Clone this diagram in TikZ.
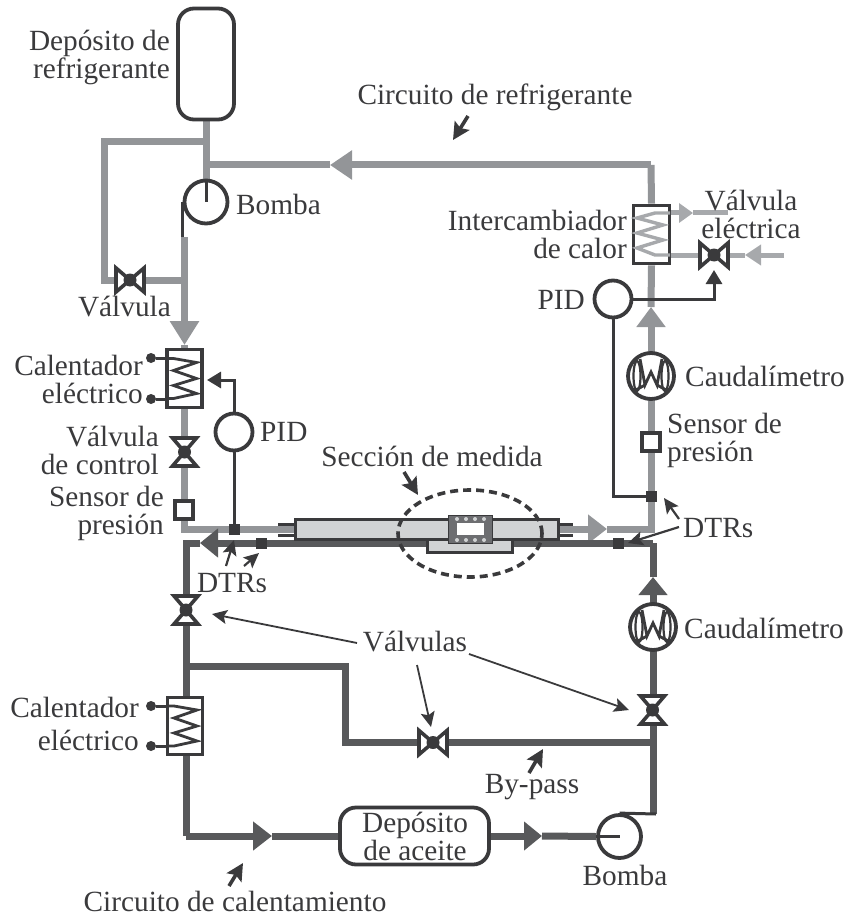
\documentclass[tikz,border=0pt]{standalone}
\usepackage{fontspec}
\setmainfont{Liberation Serif}
\usetikzlibrary{arrows.meta, positioning, shapes.geometric, backgrounds}
\definecolor{cRef}{HTML}{939598}
\definecolor{cAce}{HTML}{58595B}
\definecolor{cAgua}{HTML}{A7A9AC}
\definecolor{cLin}{HTML}{3A3A3C}
\definecolor{cTubo}{HTML}{D1D3D4}
\definecolor{cBloque}{HTML}{6D6E71}

\begin{document}
\begin{tikzpicture}[
  x=1pt, y=-1pt,
  txt/.style={font=\fontsize{29.3}{28}\selectfont, text=cLin, inner sep=0pt},
  tuboref/.style={draw=cRef, line width=7pt},
  tuboace/.style={draw=cAce, line width=7pt},
  tuboagua/.style={draw=cAgua, line width=5pt},
  punta/.style={-{Triangle[length=#1pt,width=28pt]}},
  wire/.style={draw=cLin, line width=3pt},
  caja/.style={rectangle, draw=cLin, line width=3.8pt, fill=white, inner sep=0pt},
  bomba/.style={circle, draw=cLin, line width=3.8pt, fill=white, minimum size=43pt, inner sep=0pt},
  pidc/.style={circle, draw=cLin, line width=3.8pt, fill=white, minimum size=37pt, inner sep=0pt},
  caudal/.style={circle, draw=cLin, line width=3.8pt, fill=white, minimum size=46pt, inner sep=0pt},
  sensor/.style={rectangle, draw=cLin, line width=3.8pt, fill=white, minimum size=18pt, inner sep=0pt},
  dtr/.style={rectangle, fill=cLin, minimum size=11pt, inner sep=0pt},
  borne/.style={circle, fill=cLin, minimum size=10pt, inner sep=0pt},
  flecha/.style={draw=cLin, line width=3.6pt, -{Stealth[length=17pt,width=17pt,inset=3pt]}},
  fina/.style={draw=cLin, line width=1.8pt, -{Stealth[length=15pt,width=14pt,inset=3pt]}},
  mando/.style={wire, -{Triangle[length=14pt,width=16pt]}},
  pics/valvula/.style={code={
    \draw[cLin, line width=3.6pt, fill=white] (-14,-12) -- (0,0) -- (-14,12) -- cycle;
    \draw[cLin, line width=3.6pt, fill=white] (14,-12) -- (0,0) -- (14,12) -- cycle;
    \fill[cLin] (0,0) circle (6.5);
  }},
  pics/resistencia/.style={code={
    \draw[cLin, line width=2.8pt] (-17,-20) -- (-11,-20) -- (12,-16) -- (-11,-8) -- (12,0) -- (-11,7) -- (12,15) -- (-11,20) -- (-17,20);
  }},
  pics/medidor/.style={code={
    \draw[cLin, line width=2.8pt] (-11,-17) -- (-6,9) -- (0,-4) -- (6,9) -- (11,-17);
    \draw[cLin, line width=2.2pt] (-14,0) ellipse (3.5 and 15);
    \draw[cLin, line width=2.2pt] (14,0) ellipse (3.5 and 15);
    \draw[cLin, line width=2.8pt] (-6,9) -- (-17,15) (6,9) -- (17,15);
  }}
]
\useasboundingbox (0,0) rectangle (845,917);

% circuito de refrigerante
\node[caja, rounded corners=16pt, minimum width=56pt, minimum height=111pt] (TanqueR) at (206,64) {};
\node[bomba] (BombaR) at (206,202) {};
\node[caja, minimum width=35pt, minimum height=58pt] (CalR) at (184.5,378.5) {};
\pic at (CalR) {resistencia};
\node[borne] (BorneA) at (151,358) {};
\node[borne] (BorneB) at (151,399) {};
\node[sensor] (SensorR) at (184,510) {};
\node[caja, minimum width=36pt, minimum height=58pt] (Inter) at (651.5,234.5) {};
\node[caudal] (CaudalR) at (651,376) {};
\pic at (CaudalR) {medidor};
\node[sensor] (SensorD) at (651,442) {};
\node[pidc] (PidA) at (234,432) {};
\node[pidc] (PidB) at (613,299) {};

% circuito de calentamiento
\node[caja, rounded corners=16pt, minimum width=149pt, minimum height=57pt] (DepA) at (414.5,836) {};
\node[bomba] (BombaA) at (619.5,836.5) {};
\node[caja, minimum width=35pt, minimum height=57pt] (CalA) at (185,726) {};
\pic at (CalA) {resistencia};
\node[borne] (BorneC) at (151,706) {};
\node[borne] (BorneD) at (151,746) {};
\node[caudal] (CaudalA) at (653,627) {};
\pic at (CaudalA) {medidor};

% seccion de medida
\node[rectangle, draw=cLin, line width=3pt, fill=cTubo, minimum width=85pt, minimum height=13pt, inner sep=0pt] (Placa) at (469.5,546) {};
\node[rectangle, draw=cLin, line width=3pt, fill=cTubo, minimum width=263pt, minimum height=20pt, inner sep=0pt] (Tubo) at (426.5,529) {};
\node[rectangle, fill=cBloque, draw=cLin, line width=1pt, minimum width=44pt, minimum height=28pt, inner sep=0pt] (Bloque) at (470,529) {};
\node[rectangle, fill=white, minimum width=27pt, minimum height=12pt, inner sep=0pt] (Ventana) at (470.5,529) {};
\foreach \px in {457,466,475,484} {
  \fill[cTubo] (\px,519) circle (2);
  \fill[cTubo] (\px,540) circle (2);
}
\node[ellipse, draw=cLin, line width=3.6pt, dash pattern=on 8pt off 5pt, minimum width=144pt, minimum height=87pt, inner sep=0pt] (Seccion) at (470,533.5) {};

% puntos de union
\coordinate (J1) at (206,142);
\coordinate (J2) at (206,165);
\coordinate (E1) at (104,142);
\coordinate (E2) at (184.5,280);
\coordinate (S1) at (184.5,237);
\coordinate (P1) at (184.5,345);
\coordinate (E3) at (184.5,529);
\coordinate (P2) at (330,165);
\coordinate (E4) at (651,165);
\coordinate (P3) at (607,529);
\coordinate (P4) at (651,307);
\coordinate (E5) at (653,543);
\coordinate (P5) at (653,577);
\coordinate (P6) at (200,543);
\coordinate (E6) at (186,543);
\coordinate (E7) at (186,836);
\coordinate (P7) at (272,836);
\coordinate (P8) at (542,836);
\coordinate (J3) at (186,666);
\coordinate (E8) at (345,666);
\coordinate (E9) at (345,742);
\coordinate (J4) at (653,742);
\coordinate (E10) at (653,814);

\begin{scope}[on background layer]
\draw[tuboref] (TanqueR.south) -- (BombaR.north);
\draw[tuboref] (J1) -- (E1) |- (E2);
\draw[tuboref, punta=24] (S1) -- (P1);
\draw[tuboref] (P1) -- (CalR.north);
\draw[tuboref] (CalR.south) -- (E3) -- (Tubo.west);
\draw[tuboref, punta=22] (E4) -- (P2);
\draw[tuboref] (P2) -- (J2);
\draw[tuboref, punta=19] (Tubo.east) -- (P3);
\draw[tuboref, punta=20] (P3) -| (P4);
\draw[tuboref] (P4) -- (Inter.south);
\draw[tuboref] (Inter.north) -- (E4);
\draw[tuboace, punta=18] (E10) -- (P5);
\draw[tuboace] (P5) -- (E5);
\draw[tuboace, punta=18] (E5) -- (P6);
\draw[tuboace] (P6) -- (E6) -- (E7);
\draw[tuboace, punta=19] (E7) -- (P7);
\draw[tuboace] (P7) -- (DepA.west);
\draw[tuboace, punta=18] (DepA.east) -- (P8);
\draw[tuboace] (P8) -- (BombaA.west);
\draw[tuboace] (J3) -- (E8) -- (E9) -- (J4);
\end{scope}

% valvulas
\coordinate (ValA) at (130,280);
\coordinate (ValB) at (184.5,452);
\coordinate (ValC) at (714,255);
\coordinate (ValD) at (186,610);
\coordinate (ValE) at (433,742.5);
\coordinate (ValF) at (652.5,710);
\pic at (ValA) {valvula};
\pic[rotate=90] at (ValB) {valvula};
\pic[rotate=90] at (ValD) {valvula};
\pic at (ValE) {valvula};
\pic[rotate=90] at (ValF) {valvula};

% intercambiador y agua
\coordinate (A1) at (670,213);
\coordinate (A2) at (728,213);
\coordinate (A3) at (784,255);
\coordinate (A4) at (670,255);
\coordinate (A5) at (693,213);
\coordinate (A6) at (745,255);
\begin{scope}[on background layer]
\draw[tuboagua, -{Triangle[length=14pt,width=19pt]}] (Inter.east |- A1) -- (A5);
\draw[tuboagua] (A5) -- (A2);
\draw[tuboagua, -{Triangle[length=16pt,width=20pt]}] (A3) -- (A6);
\draw[tuboagua] (A6) -- (Inter.east |- A4);
\end{scope}
\draw[draw=cAgua, line width=3.4pt] (A1) -- (655,213) -- (637,218) -- (663,225) -- (637,233) -- (663,240) -- (637,248) -- (655,255) -- (A4);
\pic at (ValC) {valvula};

% sensores de temperatura
\node[dtr] (DtrA) at (234,529.5) {};
\node[dtr] (DtrB) at (261.5,543) {};
\node[dtr] (DtrC) at (651.5,496) {};
\node[dtr] (DtrD) at (618,543) {};

% bombas y cables
\draw[wire] (BombaR.north) -- (BombaR.center);
\draw[wire] (BombaR.west) -- (S1 -| BombaR.west);
\draw[wire] (BombaA.west) -- (BombaA.center);
\draw[wire] (BombaA.north) -- (656,814);
\draw[wire] (BorneA) -- ++(18,0);
\draw[wire] (BorneB) -- ++(18,0);
\draw[wire] (BorneC) -- ++(18,0);
\draw[wire] (BorneD) -- ++(18,0);
\draw[wire] (DtrA) -- (PidA);
\coordinate (M1) at (207,380);
\coordinate (M2) at (714,270);
\draw[mando] (PidA.north) |- (M1);
\draw[wire] (DtrC) -| (PidB.south);
\draw[mando] (PidB.east) -| (M2);
\draw[wire] (278,524.5) -- (Tubo.west |- 0,524.5);
\draw[wire] (278,535) -- (Tubo.west |- 0,535);
\draw[wire] (Tubo.east |- 0,524.5) -- (573,524.5);
\draw[wire] (Tubo.east |- 0,535) -- (573,535);

% textos
\node[txt, align=right, anchor=east] (tTanque) at (170,57) {Depósito de\\refrigerante};
\node[txt, anchor=west] (tBombaR) at (236,204) {Bomba};
\node[txt, anchor=east] (tValA) at (171,307) {Válvula};
\node[txt, align=right, anchor=east] (tCalR) at (143,379) {Calentador\\eléctrico};
\node[txt, align=right, anchor=east] (tValB) at (159,450) {Válvula\\de control};
\node[txt, align=right, anchor=east] (tSensorR) at (164,513) {Sensor de\\presión};
\node[txt, anchor=west] (tPidA) at (260,432) {PID};
\node[txt, anchor=center] (tSeccion) at (432,456) {Sección de medida};
\node[txt, anchor=center] (tCirR) at (495,97) {Circuito de refrigerante};
\node[txt, align=right, anchor=east] (tInter) at (627,234) {Intercambiador\\de calor};
\node[txt, align=center, anchor=center] (tValC) at (751,214) {Válvula\\eléctrica};
\node[txt, anchor=east] (tPidB) at (585,300) {PID};
\node[txt, anchor=west] (tCaudalR) at (685,376) {Caudalímetro};
\node[txt, align=left, anchor=west] (tSensorD) at (667,440) {Sensor de\\presión};
\node[txt, anchor=west] (tDtrB) at (683,528) {DTRs};
\node[txt, anchor=center] (tDtrA) at (232,583) {DTRs};
\node[txt, anchor=west] (tCaudalA) at (684,628) {Caudalímetro};
\node[txt, anchor=center] (tValvulas) at (415,642) {Válvulas};
\node[txt, anchor=east] (tCalA) at (139,707) {Calentador};
\node[txt, anchor=east] (tCalB) at (139,740) {eléctrico};
\node[txt, align=center, anchor=center] (tDepA) at (415,836) {Depósito\\de aceite};
\node[txt, anchor=center] (tBypass) at (532,787) {By-pass};
\node[txt, anchor=center] (tBombaA) at (625,875) {Bomba};
\node[txt, anchor=center] (tCirA) at (235,901) {Circuito de calentamiento};

% flechas de las etiquetas
\coordinate (a1) at (404,472);  \coordinate (b1) at (418,495);
\coordinate (a2) at (468,116);  \coordinate (b2) at (453,140);
\coordinate (a3) at (529,773);  \coordinate (b3) at (543,749);
\coordinate (a4) at (229,886);  \coordinate (b4) at (243,863);
\coordinate (a5) at (226,566);  \coordinate (b5) at (234,540);
\coordinate (a6) at (244,566);  \coordinate (b6) at (259,553);
\coordinate (a7) at (679,519);  \coordinate (b7) at (664,498);
\coordinate (a8) at (679,527);  \coordinate (b8) at (628,543);
\coordinate (a9) at (357,643);  \coordinate (b9) at (212,614);
\coordinate (a10) at (469,654); \coordinate (b10) at (629,710);
\coordinate (a11) at (417,665); \coordinate (b11) at (431,727);
\draw[flecha] (a1) -- (b1);
\draw[flecha] (a2) -- (b2);
\draw[flecha] (a3) -- (b3);
\draw[flecha] (a4) -- (b4);
\draw[fina, line width=2.2pt] (a5) -- (b5);
\draw[fina, line width=2.2pt] (a6) -- (b6);
\draw[fina, line width=2.2pt] (a7) -- (b7);
\draw[fina, line width=2.2pt] (a8) -- (b8);
\draw[fina] (a9) -- (b9);
\draw[fina] (a10) -- (b10);
\draw[fina] (a11) -- (b11);
\end{tikzpicture}
\end{document}
